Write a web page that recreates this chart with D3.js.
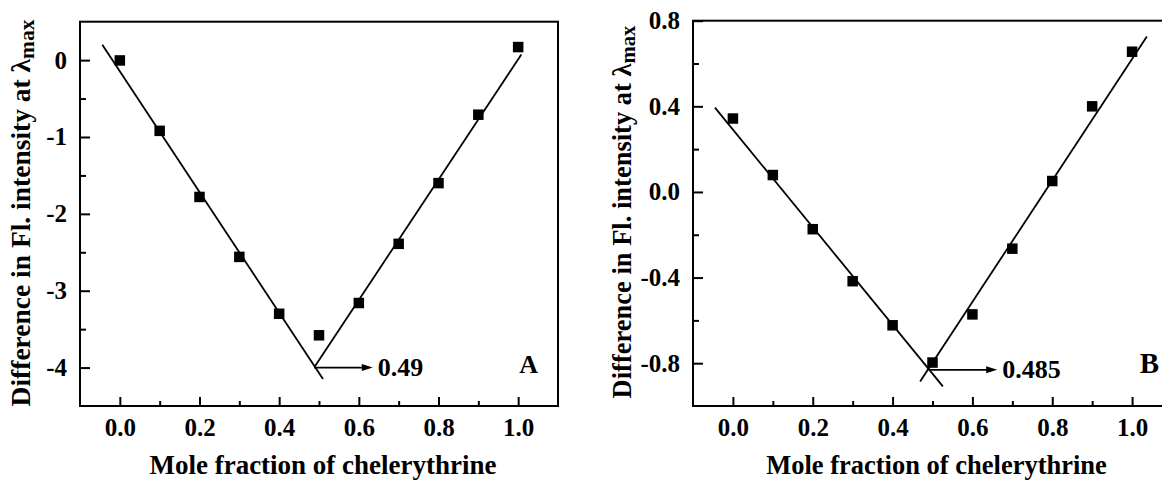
<!DOCTYPE html>
<html>
<head>
<meta charset="utf-8">
<script src="https://cdn.jsdelivr.net/npm/d3@7"></script>
<style>
  html, body { margin: 0; padding: 0; background: #fff; }
  svg { display: block; }
  text { font-family: "Liberation Serif", "Times New Roman", serif; font-weight: bold; fill: #000; }
</style>
</head>
<body>
<svg id="chart" width="1162" height="480"></svg>
<script>
// ---------------- data ----------------
const moleFraction = [0.0, 0.1, 0.2, 0.3, 0.4, 0.5, 0.6, 0.7, 0.8, 0.9, 1.0];
const diffA = [-0.004, -0.92, -1.78, -2.56, -3.30, -3.58, -3.16, -2.39, -1.60, -0.71, 0.17];
const diffB = [0.343, 0.079, -0.174, -0.417, -0.623, -0.797, -0.572, -0.265, 0.051, 0.400, 0.655];

// fitted straight lines (end points, data units)
const fitA1 = [[-0.044, 0.20], [0.51, -4.15]];
const fitA2 = [[0.489, -3.99], [1.008, 0.074]];
const fitB1 = [[-0.045, 0.394], [0.526, -0.908]];
const fitB2 = [[0.469, -0.885], [1.037, 0.726]];

// intersection annotations: [x, y, arrow tip x]
const annotA = [0.488, -4.0, 0.635];
const annotB = [0.492, -0.831, 0.662];
const annotLabels = ["0.49", "0.485"];
const panelLetters = ["A", "B"];

const xDomain = [-0.1, 1.1];
const xMajor = [0.0, 0.2, 0.4, 0.6, 0.8, 1.0];
const xMinor = [0.1, 0.3, 0.5, 0.7, 0.9];
const xTickLabels = ["0.0", "0.2", "0.4", "0.6", "0.8", "1.0"];

const yDomainA = [-4.5, 0.5];
const yMajorA = [-4, -3, -2, -1, 0];
const yMinorA = [-3.5, -2.5, -1.5, -0.5];
const yTickLabelsA = ["-4", "-3", "-2", "-1", "0"];

const yDomainB = [-1.0, 0.8];
const yMajorB = [-0.8, -0.4, 0.0, 0.4, 0.8];
const yMinorB = [-0.6, -0.2, 0.2, 0.6];
const yTickLabelsB = ["-0.8", "-0.4", "0.0", "0.4", "0.8"];

const xTitle = "Mole fraction of chelerythrine";
const yTitleMain = "Difference in Fl. intensity at ";
const yTitleLambda = "\u03BB";
const yTitleSub = "max";

// ---------------- layout ----------------
const panels = [
  { left: 80, right: 558, top: 21.7, bottom: 406, yDomain: yDomainA, yMajor: yMajorA, yMinor: yMinorA,
    yLabels: yTickLabelsA, values: diffA, fits: [fitA1, fitA2], annot: annotA, annotLabel: annotLabels[0],
    letter: panelLetters[0], letterX: 1.0025, letterFs: 26, yTitleX: 30, yTitleY: 213, titleFs: 27.5, xTitleFs: 27 },
  { left: 693, right: 1172, top: 20.7, bottom: 406, yDomain: yDomainB, yMajor: yMajorB, yMinor: yMinorB,
    yLabels: yTickLabelsB, values: diffB, fits: [fitB1, fitB2], annot: annotB, annotLabel: annotLabels[1],
    letter: panelLetters[1], letterX: 1.019, letterFs: 29, yTitleX: 631, yTitleY: 212, titleFs: 26.5, xTitleFs: 26.5 }
];

const svg = d3.select("#chart");

panels.forEach(p => {
  const g = svg.append("g");
  const x = d3.scaleLinear().domain(xDomain).range([p.left, p.right]);
  const y = d3.scaleLinear().domain(p.yDomain).range([p.bottom, p.top]);

  // major x ticks (inward)
  const xAxis = d3.axisBottom(x).tickValues(xMajor).tickSize(-9).tickPadding(12)
    .tickFormat((d, i) => xTickLabels[i]);
  const gx = g.append("g").attr("transform", `translate(0,${p.bottom})`).call(xAxis);
  gx.select(".domain").remove();
  gx.selectAll("line").attr("stroke", "#000").attr("stroke-width", 2);
  gx.selectAll("text").attr("font-size", 25).attr("font-family", "Liberation Serif").attr("font-weight", "bold")
    .attr("fill", "#000");

  const xAxisMinor = d3.axisBottom(x).tickValues(xMinor).tickSize(-5).tickFormat("");
  const gxm = g.append("g").attr("transform", `translate(0,${p.bottom})`).call(xAxisMinor);
  gxm.select(".domain").remove();
  gxm.selectAll("line").attr("stroke", "#000").attr("stroke-width", 2);

  // y ticks (inward)
  const yAxis = d3.axisLeft(y).tickValues(p.yMajor).tickSize(-10).tickPadding(13)
    .tickFormat((d, i) => p.yLabels[i]);
  const gy = g.append("g").attr("transform", `translate(${p.left},0)`).call(yAxis);
  gy.select(".domain").remove();
  gy.selectAll("line").attr("stroke", "#000").attr("stroke-width", 2);
  gy.selectAll("text").attr("font-size", 25).attr("font-family", "Liberation Serif").attr("font-weight", "bold")
    .attr("fill", "#000");

  const yAxisMinor = d3.axisLeft(y).tickValues(p.yMinor).tickSize(-6).tickFormat("");
  const gym = g.append("g").attr("transform", `translate(${p.left},0)`).call(yAxisMinor);
  gym.select(".domain").remove();
  gym.selectAll("line").attr("stroke", "#000").attr("stroke-width", 2);

  // frame
  g.append("rect")
    .attr("x", p.left).attr("y", p.top)
    .attr("width", p.right - p.left).attr("height", p.bottom - p.top)
    .attr("fill", "none").attr("stroke", "#000").attr("stroke-width", 2);

  // fit lines
  const line = d3.line().x(d => x(d[0])).y(d => y(d[1]));
  p.fits.forEach(f => {
    g.append("path").attr("d", line(f)).attr("fill", "none")
      .attr("stroke", "#000").attr("stroke-width", 1.8);
  });

  // data markers
  const s = 10.5;
  g.selectAll("rect.pt").data(moleFraction.map((m, i) => [m, p.values[i]]))
    .enter().append("rect").attr("class", "pt")
    .attr("x", d => x(d[0]) - s / 2).attr("y", d => y(d[1]) - s / 2)
    .attr("width", s).attr("height", s).attr("fill", "#000");

  // annotation arrow
  const ax0 = x(p.annot[0]), ay = y(p.annot[1]), ax1 = x(p.annot[2]);
  g.append("line").attr("x1", ax0).attr("y1", ay).attr("x2", ax1 - 8).attr("y2", ay)
    .attr("stroke", "#000").attr("stroke-width", 1.8);
  g.append("path")
    .attr("d", `M${ax1},${ay} L${ax1 - 11},${ay - 3.5} L${ax1 - 11},${ay + 3.5} Z`)
    .attr("fill", "#000");
  g.append("text").attr("x", ax1 + 5).attr("y", ay + 8.5)
    .attr("font-size", 26).text(p.annotLabel);

  // panel letter
  g.append("text").attr("x", x(p.letterX)).attr("y", p.bottom - 33.3)
    .attr("font-size", p.letterFs).text(p.letter);

  // x title
  g.append("text").attr("x", (p.left + p.right) / 2 + 4).attr("y", 474)
    .attr("text-anchor", "middle").attr("font-size", p.xTitleFs).text(xTitle);

  // y title
  const yt = g.append("text")
    .attr("transform", `translate(${p.yTitleX},${p.yTitleY}) rotate(-90)`)
    .attr("text-anchor", "middle").attr("font-size", p.titleFs);
  yt.append("tspan").text(yTitleMain);
  yt.append("tspan").text(yTitleLambda);
  yt.append("tspan").attr("font-size", p.titleFs * 0.78).attr("dy", 4).text(yTitleSub);
});
</script>
</body>
</html>
